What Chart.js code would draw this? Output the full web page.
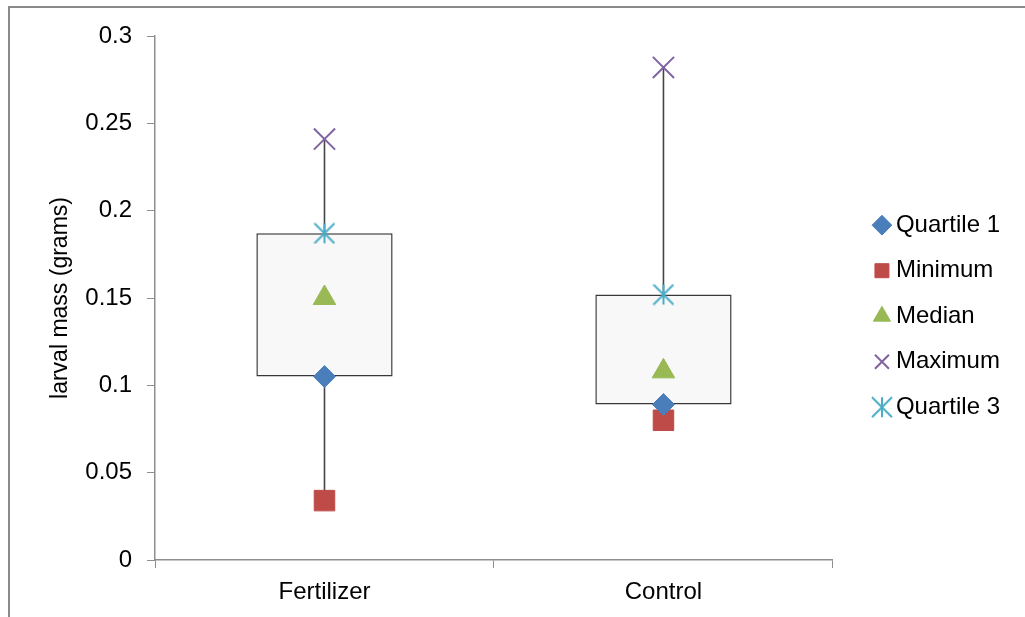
<!DOCTYPE html>
<html>
<head>
<meta charset="utf-8">
<title>larval mass box plot</title>
<script src="https://cdn.jsdelivr.net/npm/chart.js@4/dist/chart.umd.min.js"></script>
<style>
  html, body { margin: 0; padding: 0; background: #fff; }
  #wrap { position: relative; width: 1025px; height: 617px; overflow: hidden; }
  #frame {
    position: absolute; left: 8px; top: 6px; width: 1100px; height: 700px;
    border-left: 2px solid #8a8a8a; border-top: 2px solid #8a8a8a;
  }
  #chart { position: absolute; left: 0; top: 0; }
</style>
</head>
<body>
<div id="wrap">
  <div id="frame"></div>
  <canvas id="chart" width="1025" height="617"></canvas>
</div>
<script>
// values
const groups = ['Fertilizer', 'Control'];
const quartile1 = [0.105, 0.089];
const minimum = [0.034, 0.080];
const median = [0.150, 0.108];
const maximum = [0.241, 0.282];
const quartile3 = [0.187, 0.152];

const yTickStep = 0.05;
const yTickLabels = ['0', '0.05', '0.1', '0.15', '0.2', '0.25', '0.3'];

const FONT = 'Liberation Sans, Arial, sans-serif';
const AXIS_GREY = '#8e8e8e';

// six-spoke asterisk like the Excel star marker
function asteriskMarker(size, color) {
    const c = document.createElement('canvas');
    c.width = size;
    c.height = size;
    const g = c.getContext('2d');
    const h = size / 2;
    const r = h - 1;
    g.strokeStyle = color;
    g.lineWidth = 2;
    g.beginPath();
    g.moveTo(h, h - r); g.lineTo(h, h + r);
    g.moveTo(h - r, h - r); g.lineTo(h + r, h + r);
    g.moveTo(h + r, h - r); g.lineTo(h - r, h + r);
    g.stroke();
    return c;
}

function markerSeries(label, data, style, color, radius, extra) {
    return Object.assign({
        type: 'line',
        label: label,
        data: data,
        showLine: false,
        pointStyle: style,
        pointRadius: radius,
        pointHoverRadius: radius,
        pointBackgroundColor: color,
        pointBorderColor: color,
        pointBorderWidth: 1,
        backgroundColor: color,
        borderColor: color,
        order: 0
    }, extra || {});
}

const markerLabels = ['Quartile 1', 'Minimum', 'Median', 'Maximum', 'Quartile 3'];

new Chart(document.getElementById('chart').getContext('2d'), {
    type: 'bar',
    data: {
        labels: groups,
        datasets: [
            markerSeries('Quartile 1', quartile1, 'rectRot', '#4a7ebb', 11),
            markerSeries('Minimum', minimum, 'rect', '#be4b48', 14.5),
            markerSeries('Median', median, 'triangle', '#98b954', 13),
            markerSeries('Maximum', maximum, 'crossRot', '#8064a2', 15, { pointBorderWidth: 2 }),
            markerSeries('Quartile 3', quartile3, asteriskMarker(22, '#4bacc6'), '#4bacc6', 11),
            {
                // box from quartile 1 to quartile 3
                label: 'box',
                data: groups.map((g, i) => [quartile1[i], quartile3[i]]),
                backgroundColor: '#f8f8f8',
                borderColor: '#383838',
                borderWidth: 1.5,
                borderSkipped: false,
                grouped: false,
                barPercentage: 0.402,
                categoryPercentage: 1,
                order: 2
            },
            {
                // whisker from minimum to maximum, behind the box
                label: 'whisker',
                data: groups.map((g, i) => [minimum[i], maximum[i]]),
                backgroundColor: '#454545',
                borderWidth: 0,
                inflateAmount: 0,
                grouped: false,
                barThickness: 1.6,
                order: 3
            }
        ]
    },
    options: {
        responsive: false,
        animation: false,
        layout: { padding: { top: 36, right: 15, bottom: 0, left: 0 } },
        plugins: {
            tooltip: { enabled: false },
            legend: {
                position: 'right',
                fullSize: false,
                // blank title only pushes the entries down a little
                title: { display: true, text: ' ', font: { size: 12 }, padding: 11 },
                labels: {
                    usePointStyle: true,
                    boxWidth: 4,
                    boxHeight: 14,
                    padding: 21.5,
                    color: '#000',
                    font: { family: FONT, size: 24 },
                    filter: item => markerLabels.includes(item.text)
                }
            }
        },
        scales: {
            x: {
                offset: true,
                grid: { offset: true, drawOnChartArea: false, tickLength: 8, color: AXIS_GREY },
                border: { color: AXIS_GREY, width: 1.5 },
                ticks: { color: '#000', padding: 10, font: { family: FONT, size: 24 } },
                afterFit: s => { s.height = 57; }
            },
            y: {
                min: 0,
                max: 0.3,
                grid: { drawOnChartArea: false, tickLength: 8, color: AXIS_GREY },
                border: { color: AXIS_GREY, width: 1.5 },
                ticks: {
                    stepSize: yTickStep,
                    color: '#000',
                    padding: 15,
                    font: { family: FONT, size: 24 },
                    callback: v => yTickLabels[Math.round(v / yTickStep)]
                },
                title: {
                    display: true,
                    text: 'larval mass (grams)',
                    color: '#000',
                    font: { family: FONT, size: 23 },
                    padding: { top: 47, bottom: 0 }
                },
                afterFit: s => { s.width = 155; }
            },
            // empty spacer between plot area and legend
            gap: {
                type: 'linear',
                position: 'right',
                grid: { display: false },
                border: { display: false },
                ticks: { display: false },
                afterFit: s => { s.width = 25.5; }
            }
        }
    }
});
</script>
</body>
</html>
